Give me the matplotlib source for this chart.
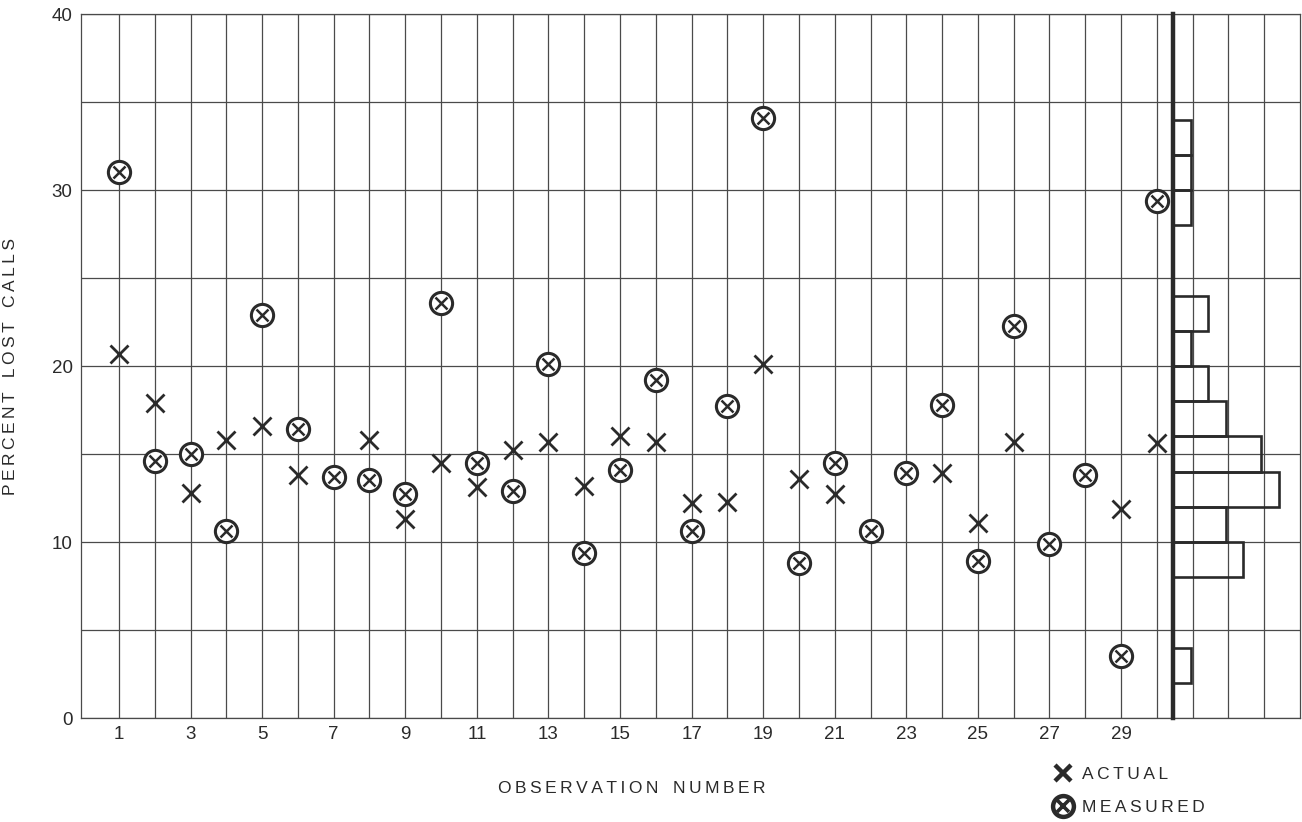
import numpy as np
import matplotlib
matplotlib.use("Agg")
from matplotlib import pyplot as plt
from matplotlib.lines import Line2D
from matplotlib.legend_handler import HandlerTuple

plt.rcParams['font.family'] = ['Liberation Sans', 'DejaVu Sans']

# observation numbers and percent lost calls
obs = list(range(1, 31))
nan = np.nan
# actual value hidden behind the measured marker where both coincide -> nan
actual = [20.7, 17.9, 12.8, 15.8, 16.6, 13.8, nan, 15.8, 11.3, 14.5,
          13.1, 15.2, 15.7, 13.2, 16.0, 15.7, 12.2, 12.3, 20.1, 13.6,
          12.7, nan, nan, 13.9, 11.1, 15.7, nan, nan, 11.9, 15.6]
measured = [31.0, 14.6, 15.0, 10.6, 22.9, 16.4, 13.7, 13.5, 12.7, 23.6,
            14.5, 12.9, 20.1, 9.4, 14.1, 19.2, 10.6, 17.7, 34.1, 8.8,
            14.5, 10.6, 13.9, 17.8, 8.9, 22.3, 9.9, 13.8, 3.5, 29.4]

# histogram on the right (bin lower edge, count)
bin_low = [2, 8, 10, 12, 14, 16, 18, 20, 22, 28, 30, 32]
counts = [1, 4, 3, 6, 5, 3, 2, 1, 2, 1, 1, 1]
bin_h = 2

xticks = list(range(1, 30, 2))
yticks = [0, 10, 20, 30, 40]

ink = '#2a2a2a'
grid_c = '#4a4a4a'


def spaced(s):
    # mimic the wide letter spacing of the original lettering
    return '   '.join('\u2009'.join(w) for w in s.split(' '))


W, H = 1302, 822
fig = plt.figure(figsize=(W / 100, H / 100), dpi=100)
fig.patch.set_facecolor('white')
ax = fig.add_axes([81 / W, 1 - 718 / H, (1300 - 81) / W, (718 - 14) / H])
ax.set_xlim(-0.06, 34.0)
ax.set_ylim(0, 40)

ax.set_xticks(xticks)
ax.set_xticks(range(1, 34), minor=True)
ax.set_yticks(yticks)
ax.set_yticks([5, 15, 25, 35], minor=True)
ax.grid(True, which='both', color=grid_c, lw=0.9)
ax.set_axisbelow(True)
ax.tick_params(which='both', length=0, labelsize=13.5, colors=ink)
ax.tick_params(axis='x', pad=6)
ax.tick_params(axis='y', pad=6)
for sp in ax.spines.values():
    sp.set_color(grid_c)
    sp.set_linewidth(0.9)

ax.plot(obs, actual, 'x', ms=12.5, mew=2.0, color=ink, ls='none', zorder=3)
ax.plot(obs, measured, 'o', ms=16, mfc='white', mec=ink, mew=2.2, ls='none', zorder=4)
ax.plot(obs, measured, 'x', ms=8.5, mew=1.8, color=ink, ls='none', zorder=5)

ax.set_ylabel(spaced('PERCENT LOST CALLS'), fontsize=12.5, color=ink)
ax.yaxis.set_label_coords(-0.052, 0.5)
fig.text(632 / W, 1 - 788 / H, spaced('OBSERVATION NUMBER'), fontsize=12.5,
         color=ink, ha='center', va='center')

# histogram axes, base on the thick line
fig.canvas.draw()
hist_base = 30.45
count_px = 17.6
x0 = ax.transData.transform((hist_base, 0))[0]
x1 = ax.transData.transform((34.0, 0))[0]
axh = fig.add_axes([x0 / W, 1 - 718 / H, (x1 - x0) / W, (718 - 14) / H])
axh.set_xlim(0, (x1 - x0) / count_px)
axh.set_ylim(0, 40)
axh.patch.set_alpha(0)
axh.set_xticks([])
axh.set_yticks([])
for name, sp in axh.spines.items():
    sp.set_visible(name == 'left')
axh.spines['left'].set_linewidth(3.2)
axh.spines['left'].set_color(ink)
axh.barh(bin_low, counts, height=bin_h, align='edge', fill=False,
         edgecolor=ink, lw=1.9)

# legend
h_act = Line2D([], [], marker='x', ms=11, mew=3.2, color=ink, ls='none')
h_mo = Line2D([], [], marker='o', ms=15, mfc='white', mec=ink, mew=3.2, ls='none')
h_mx = Line2D([], [], marker='x', ms=8, mew=2.6, color=ink, ls='none')
fig.legend([h_act, (h_mo, h_mx)], [spaced('ACTUAL'), spaced('MEASURED')],
           loc='upper left', bbox_to_anchor=(1046 / W, 1 - 760 / H),
           frameon=False, fontsize=12.5, handlelength=1.2, handletextpad=0.5,
           labelspacing=1.0, borderaxespad=0, labelcolor=ink,
           handler_map={tuple: HandlerTuple(ndivide=1)})

fig.savefig('out.png', dpi=100, facecolor='white')
